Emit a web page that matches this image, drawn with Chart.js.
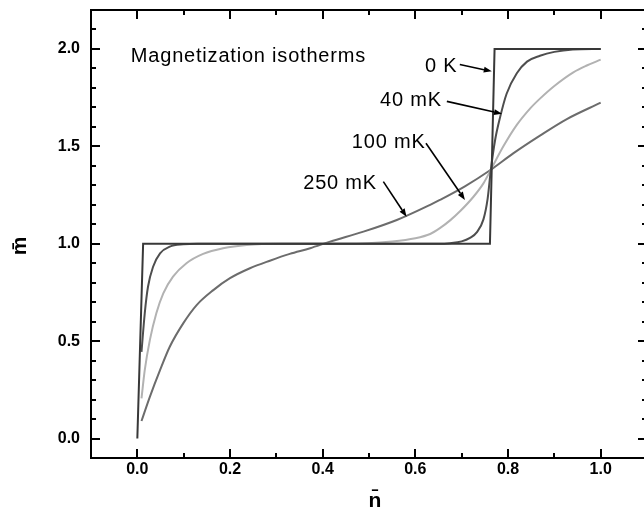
<!DOCTYPE html>
<html>
<head>
<meta charset="utf-8">
<script src="https://cdn.jsdelivr.net/npm/chart.js@4.4.1/dist/chart.umd.min.js"></script>
<style>
html, body { margin: 0; padding: 0; overflow: hidden; background: #fff; }
#wrap { width: 660px; height: 517px; }
</style>
</head>
<body>
<div id="wrap"><canvas id="myChart" width="660" height="517"></canvas></div>
<script>
// filling n and magnetization m along each isotherm
var n0K = [0, 0.0125, 0.761, 0.771, 1.0];
var m0K = [0, 1.0, 1.0, 2.0, 2.0];

var n40mK = [0.009, 0.016, 0.023, 0.034, 0.049, 0.070, 0.099, 0.13, 0.3, 0.5, 0.65, 0.675, 0.70, 0.718, 0.733, 0.747, 0.756, 0.763, 0.772, 0.783, 0.797, 0.819, 0.841, 0.869, 0.9, 0.94, 1.0];
var m40mK = [0.445, 0.643, 0.779, 0.882, 0.951, 0.985, 0.997, 1.0, 1.0, 1.0, 1.0, 1.003, 1.012, 1.03, 1.06, 1.125, 1.23, 1.38, 1.53, 1.65, 1.77, 1.875, 1.935, 1.965, 1.985, 1.997, 2.0];

var n100mK = [0.009, 0.016, 0.027, 0.041, 0.056, 0.077, 0.106, 0.142, 0.185, 0.236, 0.31, 0.45, 0.55, 0.60, 0.632, 0.653, 0.675, 0.697, 0.725, 0.747, 0.763, 0.79, 0.819, 0.848, 0.869, 0.9, 0.941, 0.97, 1.0];
var m100mK = [0.206, 0.351, 0.505, 0.643, 0.745, 0.831, 0.900, 0.948, 0.977, 0.994, 1.0, 1.0, 1.012, 1.028, 1.05, 1.08, 1.12, 1.168, 1.24, 1.31, 1.38, 1.5, 1.61, 1.695, 1.745, 1.81, 1.88, 1.915, 1.945];

var n250mK = [0.009, 0.027, 0.049, 0.070, 0.099, 0.128, 0.164, 0.200, 0.243, 0.286, 0.329, 0.373, 0.416, 0.488, 0.56, 0.632, 0.653, 0.707, 0.763, 0.812, 0.869, 0.927, 1.0];
var m250mK = [0.090, 0.214, 0.351, 0.471, 0.591, 0.685, 0.762, 0.823, 0.874, 0.913, 0.948, 0.977, 1.011, 1.062, 1.122, 1.20, 1.225, 1.295, 1.38, 1.465, 1.555, 1.64, 1.724];

// text labels inside the plot (left edge, vertical centre) in data units
var noteText = ['Magnetization isotherms', '0 K', '40 mK', '100 mK', '250 mK'];
var noteN = [-0.014, 0.621, 0.524, 0.463, 0.358];
var noteM = [1.961, 1.909, 1.734, 1.518, 1.311];

// arrows from the temperature labels to their curves
var arrowTailN = [0.696, 0.668, 0.623, 0.531];
var arrowTailM = [1.920, 1.731, 1.516, 1.319];
var arrowTipN = [0.765, 0.787, 0.707, 0.581];
var arrowTipM = [1.885, 1.667, 1.225, 1.139];

var xTitle = 'n\u0304';
var yTitle = 'm\u0304';

function toPoints(xs, ys) {
  return xs.map(function (x, i) { return { x: x, y: ys[i] }; });
}

// labelled ticks: every 0.2 on n, every 0.5 on m; the rest are minor
function isMajorX(v) {
  var k = Math.round(v * 10);
  return k >= 0 && k <= 10 && k % 2 === 0;
}
function isMajorY(v) {
  var k = Math.round(v * 10);
  return k >= 0 && k <= 20 && k % 5 === 0;
}

var FONT = "'Liberation Sans', Arial, sans-serif";

// frame with inward ticks on all four sides, tick labels, notes and arrows
var framePlugin = {
  id: 'framePlugin',
  afterDraw: function (chart) {
    var ctx = chart.ctx, a = chart.chartArea;
    var xs = chart.scales.x, ys = chart.scales.y;
    ctx.save();
    ctx.strokeStyle = '#000';
    ctx.lineWidth = 2;
    ctx.strokeRect(a.left, a.top, a.right - a.left, a.bottom - a.top);

    ctx.beginPath();
    xs.ticks.forEach(function (t) {
      var px = Math.round(xs.getPixelForValue(t.value));
      var len = isMajorX(t.value) ? 9 : 5;
      ctx.moveTo(px, a.bottom); ctx.lineTo(px, a.bottom - len);
      ctx.moveTo(px, a.top); ctx.lineTo(px, a.top + len);
    });
    ys.ticks.forEach(function (t) {
      var py = Math.round(ys.getPixelForValue(t.value));
      var len = isMajorY(t.value) ? 9 : 5;
      ctx.moveTo(a.left, py); ctx.lineTo(a.left + len, py);
      ctx.moveTo(a.right, py); ctx.lineTo(a.right - len, py);
    });
    ctx.stroke();

    // tick labels
    ctx.fillStyle = '#000';
    ctx.font = 'bold 16px ' + FONT;
    ctx.textBaseline = 'middle';
    ctx.textAlign = 'center';
    xs.ticks.forEach(function (t) {
      if (isMajorX(t.value)) ctx.fillText(t.value.toFixed(1), xs.getPixelForValue(t.value), a.bottom + 12);
    });
    ctx.textAlign = 'right';
    ys.ticks.forEach(function (t) {
      if (isMajorY(t.value)) ctx.fillText(t.value.toFixed(1), a.left - 11, ys.getPixelForValue(t.value));
    });

    // notes
    ctx.font = '20px ' + FONT;
    ctx.letterSpacing = '0.8px';
    ctx.textAlign = 'left';
    noteText.forEach(function (txt, i) {
      ctx.fillText(txt, xs.getPixelForValue(noteN[i]), ys.getPixelForValue(noteM[i]));
    });
    ctx.letterSpacing = '0px';

    ctx.lineWidth = 1.6;
    arrowTipN.forEach(function (tn, i) {
      var x0 = xs.getPixelForValue(arrowTailN[i]), y0 = ys.getPixelForValue(arrowTailM[i]);
      var x1 = xs.getPixelForValue(tn), y1 = ys.getPixelForValue(arrowTipM[i]);
      var ang = Math.atan2(y1 - y0, x1 - x0);
      var hl = 8, hw = 3;
      var bx = x1 - hl * Math.cos(ang), by = y1 - hl * Math.sin(ang);
      ctx.beginPath();
      ctx.moveTo(x0, y0); ctx.lineTo(bx, by);
      ctx.stroke();
      ctx.beginPath();
      ctx.moveTo(x1, y1);
      ctx.lineTo(bx + hw * Math.sin(ang), by - hw * Math.cos(ang));
      ctx.lineTo(bx - hw * Math.sin(ang), by + hw * Math.cos(ang));
      ctx.closePath();
      ctx.fill();
    });

    // axis titles
    ctx.font = 'bold 21px ' + FONT;
    ctx.textAlign = 'center';
    ctx.fillText(xTitle, (a.left + a.right) / 2 + 6, 501);
    ctx.save();
    ctx.translate(20, (a.top + a.bottom) / 2 + 12);
    ctx.rotate(-Math.PI / 2);
    ctx.fillText(yTitle, 0, 0);
    ctx.restore();
    ctx.restore();
  }
};

var ctx = document.getElementById('myChart').getContext('2d');

var myChart = new Chart(ctx, {
  type: 'line',
  data: {
    datasets: [
      { label: '0 K', data: toPoints(n0K, m0K), borderColor: '#383838', borderWidth: 2, tension: 0 },
      { label: '40 mK', data: toPoints(n40mK, m40mK), borderColor: '#4e4e4e', borderWidth: 2, cubicInterpolationMode: 'monotone' },
      { label: '100 mK', data: toPoints(n100mK, m100mK), borderColor: '#b2b2b2', borderWidth: 2, cubicInterpolationMode: 'monotone' },
      { label: '250 mK', data: toPoints(n250mK, m250mK), borderColor: '#6c6c6c', borderWidth: 2, cubicInterpolationMode: 'monotone' }
    ]
  },
  options: {
    responsive: false,
    animation: false,
    parsing: false,
    layout: { padding: { top: 10, right: 13, left: 0, bottom: 0 } },
    elements: { point: { radius: 0 }, line: { fill: false } },
    plugins: { legend: { display: false }, tooltip: { enabled: false } },
    scales: {
      x: {
        type: 'linear', min: -0.1, max: 1.1,
        grid: { display: false, drawTicks: false }, border: { display: false },
        ticks: { stepSize: 0.1, autoSkip: false, display: false },
        afterFit: function (s) { s.height = 59; s.paddingLeft = 0; s.paddingRight = 0; }
      },
      y: {
        type: 'linear', min: -0.1, max: 2.2,
        grid: { display: false, drawTicks: false }, border: { display: false },
        ticks: { stepSize: 0.1, autoSkip: false, display: false },
        afterFit: function (s) { s.width = 91; s.paddingTop = 0; s.paddingBottom = 0; }
      }
    }
  },
  plugins: [framePlugin]
});
</script>
</body>
</html>
